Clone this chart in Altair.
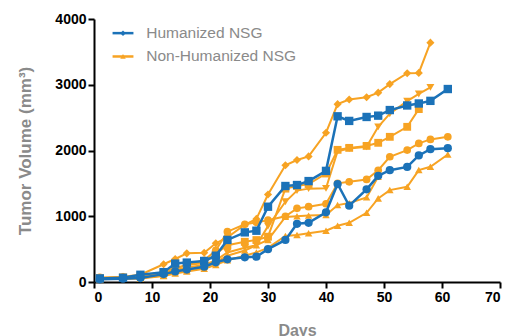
import altair as alt
import pandas as pd

days = [1, 5, 8, 12, 14, 16, 19, 21, 23, 26, 28, 30, 33, 35, 37, 40, 42, 44, 47, 49, 51, 54, 56, 58, 61]

# Humanized NSG (blue)
hu_square = [55, 65, 110, 150, 280, 295, 320, 400, 640, 755, 780, 1145, 1460, 1475, 1535, 1690, 2520, 2450, 2510, 2530, 2615, 2685, 2715, 2755, 2935]
hu_circle = [40, 50, 60, 120, 160, 190, 233, 300, 345, 375, 385, 500, 640, 885, 900, 1060, 1490, 1160, 1410, 1615, 1700, 1750, 1925, 2020, 2035]

# Non-Humanized NSG (orange)
nh_diamond = [50, 80, 110, 270, 350, 436, 445, 588, 680, 870, 960, 1330, 1775, 1855, 1910, 2270, 2705, 2775, 2810, 2880, 3010, 3175, 3180, 3640, None]
nh_tdown = [50, 60, 80, 140, 180, 220, 260, 330, 450, 520, 560, 850, 1220, 1390, 1420, 1424, 1990, 2030, 2056, 2360, 2560, 2750, 2860, 2960, None]
nh_square = [60, 70, 90, 150, 200, 260, 290, 430, 560, 612, 638, 689, 1420, 1460, 1490, 1650, 2010, 2040, 2070, 2117, 2208, 2360, 2630, None, None]
nh_bigcircle = [70, 75, 70, 150, 220, 250, 330, 480, 765, 877, 907, 940, 1000, 1120, 1145, 1190, 1500, 1524, 1560, 1700, 1905, 2006, 2108, 2169, 2208]
nh_triangle = [40, 50, 55, 90, 130, 160, 200, 260, 330, 400, 450, 520, 700, 714, 740, 780, 856, 900, 1053, 1272, 1398, 1448, 1702, 1752, 1940]
nh_tup2 = [45, 55, 60, 100, 150, 180, 230, 300, 400, 480, 560, 640, 990, 1000, 1010, 1018, 1170, 1200, 1287, 1600, None, None, None, None, None]

groups = ["Humanized NSG", "Non-Humanized NSG"]
colors = ["#1b72b8", "#f7a323"]

series = [
    ("H1", groups[0], "square", 70, hu_square),
    ("H2", groups[0], "circle", 55, hu_circle),
    ("N1", groups[1], "diamond", 30, nh_diamond),
    ("N2", groups[1], "triangle-down", 45, nh_tdown),
    ("N3", groups[1], "square", 60, nh_square),
    ("N4", groups[1], "circle", 120, nh_bigcircle),
    ("N5", groups[1], "triangle-up", 40, nh_triangle),
    ("N6", groups[1], "triangle-up", 45, nh_tup2),
]

rows = []
for name, grp, shp, sz, vals in series:
    for d, v in zip(days, vals):
        if v is not None:
            rows.append({"series": name, "group": grp, "day": d, "volume": v})
df = pd.DataFrame(rows)

names = [s[0] for s in series]
shapes = [s[2] for s in series]
sizes = [s[3] for s in series]

xs = alt.Scale(domain=[0, 70], nice=False)
ys = alt.Scale(domain=[0, 4000], nice=False)
cs = alt.Scale(domain=groups, range=colors)

x_axis = alt.Axis(values=[0, 10, 20, 30, 40, 50, 60, 70], title="Days", grid=False, format="d",
                  domainColor="black", domainWidth=2, tickColor="black", tickWidth=2, tickSize=6,
                  labelFont="Liberation Sans", labelFontSize=14, labelFontWeight="bold", labelColor="black",
                  titleFont="Liberation Sans", titleFontSize=16, titleFontWeight="bold", titleColor="#8a8a8a",
                  titlePadding=18, labelPadding=2)
y_axis = alt.Axis(values=[0, 1000, 2000, 3000, 4000], title="Tumor Volume (mm³)", grid=False, format="d",
                  domainColor="black", domainWidth=2, tickColor="black", tickWidth=2, tickSize=6,
                  labelFont="Liberation Sans", labelFontSize=14, labelFontWeight="bold", labelColor="black",
                  titleFont="Liberation Sans", titleFontSize=17, titleFontWeight="bold", titleColor="#8a8a8a",
                  titlePadding=20, labelPadding=2)

base = alt.Chart(df)


def layer_for(grp, width):
    sub = base.transform_filter(alt.datum.group == grp)
    line = sub.mark_line(strokeWidth=width).encode(
        x=alt.X("day:Q", scale=xs, axis=x_axis),
        y=alt.Y("volume:Q", scale=ys, axis=y_axis),
        color=alt.Color("group:N", scale=cs, legend=None),
        detail="series:N",
    )
    pts = sub.mark_point(filled=True, opacity=1).encode(
        x=alt.X("day:Q", scale=xs),
        y=alt.Y("volume:Q", scale=ys),
        color=alt.Color("group:N", scale=cs, legend=None),
        shape=alt.Shape("series:N", scale=alt.Scale(domain=names, range=shapes), legend=None),
        size=alt.Size("series:N", scale=alt.Scale(domain=names, range=sizes), legend=None),
    )
    return line + pts

# legend built in data coordinates
leg_line = pd.DataFrame({
    "group": [groups[0], groups[0], groups[1], groups[1]],
    "x": [3.2, 6.8, 3.2, 6.8],
    "y": [3785, 3785, 3430, 3430],
})
leg_pt = pd.DataFrame({"group": groups, "x": [5.0, 5.0], "y": [3785, 3430], "shape": ["diamond", "triangle-up"]})
leg_txt = pd.DataFrame({"group": groups, "x": [9.0, 9.0], "y": [3785, 3430]})

legend_lines = alt.Chart(leg_line).mark_line(strokeWidth=2.5).encode(
    x=alt.X("x:Q", scale=xs), y=alt.Y("y:Q", scale=ys),
    color=alt.Color("group:N", scale=cs, legend=None), detail="group:N")
legend_pts = alt.Chart(leg_pt).mark_point(filled=True, opacity=1, size=30).encode(
    x=alt.X("x:Q", scale=xs), y=alt.Y("y:Q", scale=ys),
    color=alt.Color("group:N", scale=cs, legend=None),
    shape=alt.Shape("shape:N", scale=None, legend=None))
legend_txt = alt.Chart(leg_txt).mark_text(align="left", baseline="middle", font="Liberation Sans",
                                           fontSize=15.5, color="#8a8a8a").encode(
    x=alt.X("x:Q", scale=xs), y=alt.Y("y:Q", scale=ys), text="group:N")

chart = alt.layer(
    layer_for(groups[1], 2),
    layer_for(groups[0], 2.5),
    legend_lines, legend_pts, legend_txt,
).properties(
    width=406, height=263,
    autosize=alt.AutoSizeParams(type="none"),
    padding={"left": 86, "top": 11, "right": 6, "bottom": 60},
).configure_view(stroke=None)

chart.save("out.html", embed_options={"renderer": "svg", "actions": False})
